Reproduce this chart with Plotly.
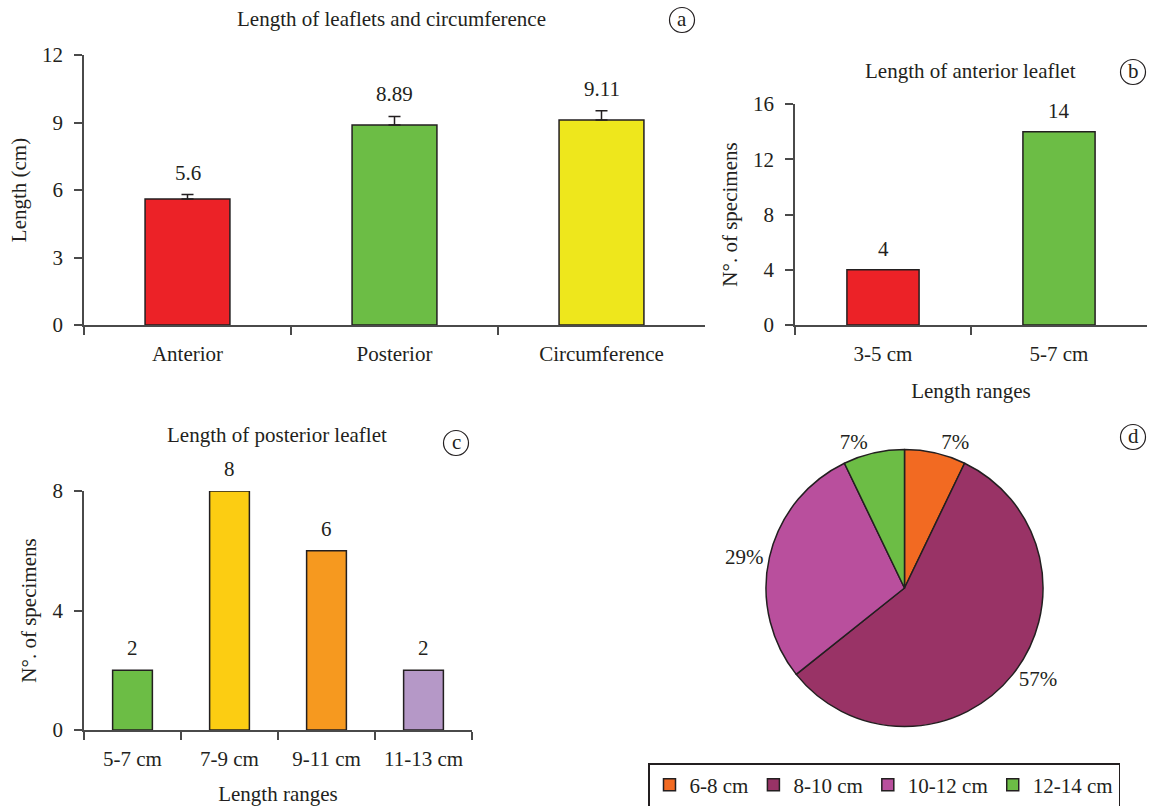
import plotly.graph_objects as go

# ---------------- data ----------------
a_categories = ["Anterior", "Posterior", "Circumference"]
a_values = [5.6, 8.89, 9.11]
a_errors = [0.2, 0.38, 0.41]
a_colors = ["#ec2227", "#6cbd45", "#eee71c"]

b_categories = ["3-5 cm", "5-7 cm"]
b_values = [4, 14]
b_colors = ["#ec2227", "#6cbd45"]

c_categories = ["5-7 cm", "7-9 cm", "9-11 cm", "11-13 cm"]
c_values = [2, 8, 6, 2]
c_colors = ["#6cbd45", "#fccd12", "#f6991f", "#b598c7"]

d_labels = ["6-8 cm", "8-10 cm", "10-12 cm", "12-14 cm"]
d_values = [1, 8, 4, 1]
d_colors = ["#f26a22", "#993366", "#b94f9d", "#6cbd45"]

# ---------------- style ----------------
FONT = "Liberation Serif"
FS = 21
INK = "#231f20"
AX = "#4a4a4a"
W, H = 1149, 806


def px(x):
    return x / W


def py(y):
    return 1 - y / H


fig = go.Figure()

fig.add_trace(go.Bar(
    x=a_categories, y=a_values, marker=dict(color=a_colors, line=dict(color=INK, width=1.5)),
    width=0.41, showlegend=False, xaxis="x", yaxis="y",
    error_y=dict(type="data", array=a_errors, arrayminus=[0] * len(a_errors), symmetric=False,
                 color=INK, thickness=1.5, width=6),
    hoverinfo="x+y"))
fig.add_trace(go.Bar(
    x=b_categories, y=b_values, marker=dict(color=b_colors, line=dict(color=INK, width=1.5)),
    width=0.41, showlegend=False, xaxis="x2", yaxis="y2"))
fig.add_trace(go.Bar(
    x=c_categories, y=c_values, marker=dict(color=c_colors, line=dict(color=INK, width=1.5)),
    width=0.41, showlegend=False, xaxis="x3", yaxis="y3"))

fig.add_trace(go.Pie(
    labels=d_labels, values=d_values, sort=False, direction="clockwise", rotation=0,
    marker=dict(colors=d_colors, line=dict(color=INK, width=1.5)),
    texttemplate="%{percent:.0%}", textposition="outside",
    textfont=dict(family=FONT, size=FS, color=INK),
    domain=dict(x=[px(766), px(1043)], y=[py(727), py(449)]),
    showlegend=True))

annotations = []
for cat, v, e in zip(a_categories, a_values, a_errors):
    annotations.append(dict(x=cat, y=v + e, xref="x", yref="y", text=str(v), showarrow=False,
                            yanchor="middle", yshift=22, font=dict(family=FONT, size=FS, color=INK)))
for cat, v in zip(b_categories, b_values):
    annotations.append(dict(x=cat, y=v, xref="x2", yref="y2", text=str(v), showarrow=False,
                            yanchor="middle", yshift=21, font=dict(family=FONT, size=FS, color=INK)))
for cat, v in zip(c_categories, c_values):
    annotations.append(dict(x=cat, y=v, xref="x3", yref="y3", text=str(v), showarrow=False,
                            yanchor="middle", yshift=22, font=dict(family=FONT, size=FS, color=INK)))

# panel titles
titles = [("Length of leaflets and circumference", 391, 19),
          ("Length of anterior leaflet", 970, 71),
          ("Length of posterior leaflet", 277, 435)]
for t, x, y in titles:
    annotations.append(dict(x=px(x), y=py(y), xref="paper", yref="paper", text=t, showarrow=False,
                            xanchor="center", yanchor="middle", font=dict(family=FONT, size=FS, color=INK)))

# circled letters
shapes = []
letters = [("a", 682, 20), ("b", 1133, 72), ("c", 456, 443), ("d", 1133, 437)]
R = 12.5
for L, x, y in letters:
    shapes.append(dict(type="circle", xref="paper", yref="paper",
                       x0=px(x - R), x1=px(x + R), y0=py(y + R), y1=py(y - R),
                       line=dict(color=INK, width=1.2)))
    annotations.append(dict(x=px(x), y=py(y), xref="paper", yref="paper", text=L, showarrow=False,
                            xanchor="center", yanchor="middle", yshift=1,
                            font=dict(family=FONT, size=FS, color=INK)))

tickfont = dict(family=FONT, size=FS, color=INK)
titlefont = dict(family=FONT, size=FS, color=INK)


def xaxis(domain, anchor, title=None):
    d = dict(domain=domain, anchor=anchor, type="category", showline=True, linecolor=AX, linewidth=1.5,
             ticks="outside", tickson="boundaries", ticklen=8, tickwidth=1.5, tickcolor=AX,
             ticklabelstandoff=9,
             showgrid=False, zeroline=False, tickfont=tickfont, fixedrange=True)
    if title:
        d["title"] = dict(text=title, font=titlefont, standoff=18)
    return d


def yaxis(domain, anchor, rng, dtick, title):
    return dict(domain=domain, anchor=anchor, range=rng, dtick=dtick, showline=True, linecolor=AX,
                linewidth=1.5, ticks="outside", ticklen=8, tickwidth=1.5, tickcolor=AX,
                ticklabelstandoff=7,
                showgrid=False, zeroline=False, tickfont=tickfont, fixedrange=True,
                title=dict(text=title, font=titlefont, standoff=10))


fig.update_layout(
    width=W, height=H,
    margin=dict(l=0, r=0, t=0, b=0, autoexpand=False),
    paper_bgcolor="white", plot_bgcolor="white",
    font=dict(family=FONT, size=FS, color=INK),
    bargap=0.59,
    xaxis=xaxis([px(84), px(705)], "y"),
    yaxis=yaxis([py(325), py(55)], "x", [0, 12], 3, "Length (cm)"),
    xaxis2=xaxis([px(795), px(1147)], "y2", "Length ranges"),
    yaxis2=yaxis([py(325), py(104)], "x2", [0, 16], 4, "N°. of specimens"),
    xaxis3=xaxis([px(84), px(472)], "y3", "Length ranges"),
    yaxis3=yaxis([py(730), py(491)], "x3", [0, 8], 4, "N°. of specimens"),
    legend=dict(orientation="h", x=px(648), xanchor="left", y=py(763), yanchor="top",
                bordercolor=INK, borderwidth=1.5, font=dict(family=FONT, size=FS, color=INK),
                itemclick=False),
    annotations=annotations, shapes=shapes,
)

fig.write_html("out.html", config={"displayModeBar": False},
               post_script="document.body.style.margin='0';document.body.style.overflow='hidden';")
